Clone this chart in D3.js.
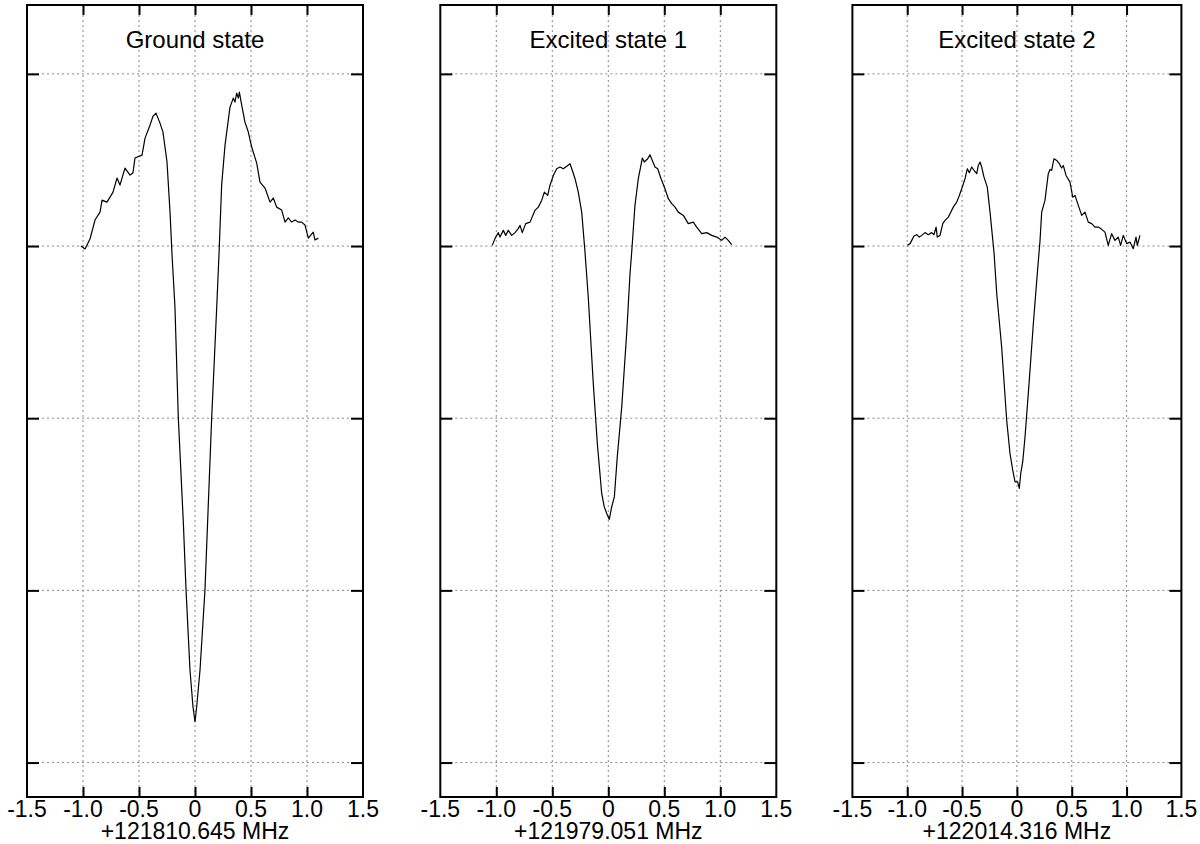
<!DOCTYPE html>
<html><head><meta charset="utf-8">
<script src="https://cdn.jsdelivr.net/npm/d3@7"></script>
<style>
html,body{margin:0;padding:0;background:#fff;}
svg text{font-family:"Liberation Sans",Arial,Helvetica,sans-serif;fill:#000;}
</style></head>
<body><svg id="chart" width="1200" height="844"></svg>
<script>
const titles = ["Ground state", "Excited state 1", "Excited state 2"];
const freqLabels = ["+121810.645 MHz", "+121979.051 MHz", "+122014.316 MHz"];
const xTicks = [-1.5, -1.0, -0.5, 0, 0.5, 1.0, 1.5];
const xTickLabels = ["-1.5", "-1.0", "-0.5", "0", "0.5", "1.0", "1.5"];
const yTicks = [1, 0, -1, -2, -3];

const groundX = [-1.018,-0.982,-0.9375,-0.893,-0.848,-0.830,-0.786,-0.732,-0.696,-0.670,-0.625,-0.580,-0.554,-0.536,-0.473,-0.446,-0.402,-0.375,-0.348,-0.3125,-0.286,-0.25,-0.223,-0.205,-0.179,-0.149,-0.104,-0.080,-0.045,-0.018,0,0.015,0.045,0.089,0.149,0.194,0.214,0.238,0.268,0.3125,0.342,0.357,0.372,0.387,0.396,0.417,0.446,0.476,0.506,0.551,0.580,0.625,0.670,0.699,0.729,0.774,0.804,0.833,0.863,0.893,0.922,0.952,0.982,1.012,1.056,1.071,1.101];
const groundY = [0,-0.017,0.041,0.151,0.197,0.267,0.255,0.313,0.395,0.354,0.453,0.412,0.424,0.511,0.528,0.627,0.702,0.754,0.772,0.714,0.662,0.488,0.197,-0.052,-0.354,-0.998,-1.608,-1.997,-2.461,-2.676,-2.763,-2.676,-2.461,-1.997,-0.998,-0.354,-0.052,0.354,0.586,0.807,0.859,0.836,0.888,0.859,0.894,0.818,0.720,0.662,0.575,0.482,0.371,0.337,0.255,0.279,0.226,0.209,0.139,0.163,0.139,0.151,0.139,0.139,0.122,0.046,0.081,0.035,0.046];

const exc1X = [-1.036,-1.012,-0.982,-0.967,-0.9375,-0.916,-0.893,-0.8625,-0.833,-0.804,-0.788,-0.768,-0.7375,-0.699,-0.655,-0.625,-0.595,-0.571,-0.541,-0.521,-0.491,-0.461,-0.431,-0.402,-0.371,-0.342,-0.321,-0.297,-0.268,-0.2375,-0.208,-0.179,-0.134,-0.098,-0.059,-0.036,-0.014,0.009,0.030,0.054,0.080,0.120,0.164,0.194,0.209,0.238,0.268,0.304,0.321,0.352,0.372,0.393,0.417,0.441,0.471,0.506,0.536,0.566,0.596,0.625,0.670,0.714,0.759,0.789,0.834,0.879,0.923,0.968,1.0125,1.042,1.071,1.102];
const exc1Y = [0.004,0.043,0.078,0.052,0.091,0.062,0.091,0.062,0.078,0.101,0.120,0.078,0.130,0.139,0.207,0.226,0.265,0.313,0.294,0.352,0.410,0.449,0.459,0.449,0.464,0.478,0.439,0.391,0.313,0.197,-0.035,-0.296,-0.799,-1.147,-1.437,-1.515,-1.553,-1.588,-1.515,-1.457,-1.225,-0.934,-0.508,-0.160,-0.035,0.236,0.391,0.511,0.488,0.507,0.530,0.497,0.459,0.449,0.391,0.333,0.275,0.246,0.226,0.197,0.178,0.130,0.139,0.110,0.072,0.078,0.062,0.052,0.033,0.052,0.033,0.008];

const exc2X = [-0.999,-0.974,-0.959,-0.938,-0.913,-0.890,-0.868,-0.838,-0.808,-0.777,-0.756,-0.737,-0.726,-0.701,-0.676,-0.655,-0.625,-0.610,-0.580,-0.549,-0.525,-0.503,-0.473,-0.452,-0.434,-0.412,-0.391,-0.366,-0.352,-0.336,-0.321,-0.300,-0.270,-0.245,-0.209,-0.184,-0.139,-0.093,-0.063,-0.038,-0.017,0.007,0.022,0.035,0.053,0.074,0.113,0.150,0.186,0.211,0.226,0.256,0.286,0.302,0.317,0.338,0.363,0.387,0.408,0.423,0.448,0.484,0.509,0.530,0.560,0.591,0.621,0.651,0.682,0.712,0.742,0.773,0.803,0.833,0.864,0.894,0.924,0.946,0.970,1.001,1.031,1.061,1.086,1.098,1.122];
const exc2Y = [0.004,0.014,0.033,0.058,0.066,0.052,0.062,0.078,0.066,0.078,0.066,0.110,0.052,0.062,0.130,0.149,0.168,0.188,0.226,0.255,0.294,0.333,0.391,0.449,0.426,0.459,0.439,0.420,0.468,0.488,0.459,0.400,0.342,0.197,-0.035,-0.276,-0.586,-1.012,-1.205,-1.302,-1.370,-1.370,-1.408,-1.321,-1.254,-1.109,-0.779,-0.450,-0.160,0.033,0.197,0.265,0.420,0.445,0.439,0.507,0.497,0.478,0.453,0.468,0.410,0.371,0.284,0.294,0.236,0.178,0.197,0.139,0.130,0.110,0.110,0.097,0.081,0.004,0.072,0.033,0.052,0.004,0.062,0.014,0.023,-0.015,0.052,0.004,0.062];

const seriesX = [groundX, exc1X, exc2X];
const seriesY = [groundY, exc1Y, exc2Y];

(function () {
const svg = d3.select("#chart");
const panelBounds = [[27, 363], [440.3, 776.3], [852.4, 1181.4]];
const plotTop = 5, plotBottom = 797;

const y = d3.scaleLinear().domain([-3.2, 1.4]).range([plotBottom, plotTop]);

panelBounds.forEach((b, i) => {
  const x = d3.scaleLinear().domain([-1.5, 1.5]).range(b);
  const g = svg.append("g");
  const inner = xTicks.filter(t => Math.abs(t) < 1.5);

  g.selectAll(".vg").data(inner).enter().append("line")
    .attr("x1", d => x(d)).attr("x2", d => x(d))
    .attr("y1", plotTop).attr("y2", plotBottom)
    .attr("stroke", "#888").attr("stroke-width", 1).attr("stroke-dasharray", "2,3");
  g.selectAll(".hg").data(yTicks).enter().append("line")
    .attr("x1", b[0]).attr("x2", b[1])
    .attr("y1", d => y(d)).attr("y2", d => y(d))
    .attr("stroke", "#888").attr("stroke-width", 1).attr("stroke-dasharray", "2,3");

  const pts = seriesX[i].map((v, k) => [v, seriesY[i][k]]);
  g.append("path").datum(pts)
    .attr("fill", "none").attr("stroke", "#000").attr("stroke-width", 1.2)
    .attr("stroke-linejoin", "round")
    .attr("d", d3.line().x(d => x(d[0])).y(d => y(d[1])));

  const axB = g.append("g").attr("transform", `translate(0,${plotBottom})`)
    .call(d3.axisTop(x).tickValues(inner).tickSize(10).tickFormat(""));
  const axT = g.append("g").attr("transform", `translate(0,${plotTop})`)
    .call(d3.axisBottom(x).tickValues(inner).tickSize(10).tickFormat(""));
  const axL = g.append("g").attr("transform", `translate(${b[0]},0)`)
    .call(d3.axisRight(y).tickValues(yTicks).tickSize(12).tickFormat(""));
  const axR = g.append("g").attr("transform", `translate(${b[1]},0)`)
    .call(d3.axisLeft(y).tickValues(yTicks).tickSize(12).tickFormat(""));
  [axB, axT, axL, axR].forEach(a => {
    a.select(".domain").remove();
    a.selectAll(".tick line").attr("stroke", "#000").attr("stroke-width", 2);
  });

  g.append("rect").attr("x", b[0]).attr("y", plotTop)
    .attr("width", b[1] - b[0]).attr("height", plotBottom - plotTop)
    .attr("fill", "none").attr("stroke", "#000").attr("stroke-width", 2);

  g.selectAll(".tl").data(xTicks).enter().append("text")
    .attr("x", d => x(d)).attr("y", 817)
    .attr("text-anchor", "middle").attr("font-size", 23)
    .text((d, k) => xTickLabels[k]);

  g.append("text").attr("x", x(0)).attr("y", 839)
    .attr("text-anchor", "middle").attr("font-size", 23)
    .text(freqLabels[i]);

  g.append("text").attr("x", x(0)).attr("y", 48)
    .attr("text-anchor", "middle").attr("font-size", 24)
    .text(titles[i]);
});
})();
</script></body></html>
